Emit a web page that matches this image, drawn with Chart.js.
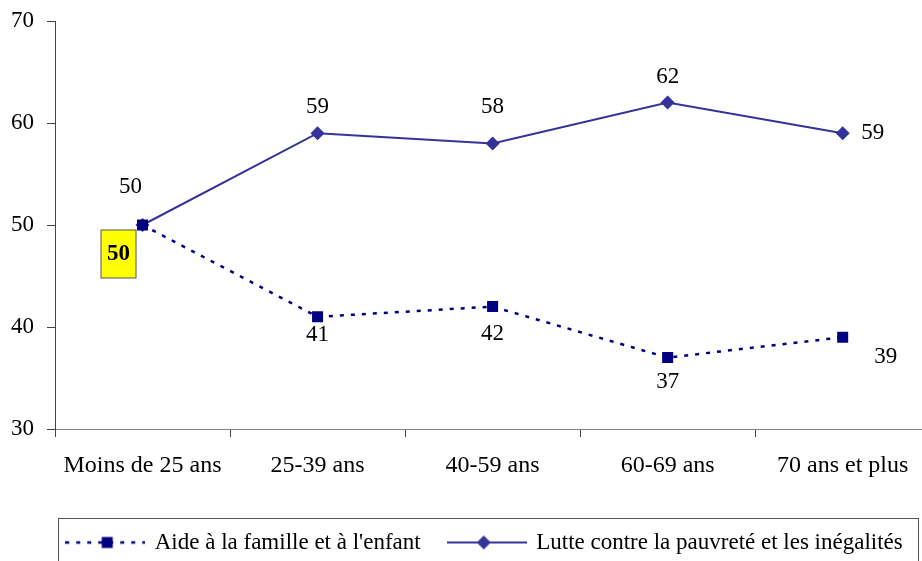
<!DOCTYPE html>
<html>
<head>
<meta charset="utf-8">
<script src="https://cdn.jsdelivr.net/npm/chart.js@4.4.1/dist/chart.umd.min.js"></script>
<style>
  html, body { margin: 0; padding: 0; background: #fff; overflow: hidden; }
  #wrap { width: 938px; height: 561px; }
</style>
</head>
<body>
<div id="wrap"><canvas id="chart1"></canvas></div>
<script>
"use strict"

// chart values
const categories = ['Moins de 25 ans', '25-39 ans', '40-59 ans', '60-69 ans', '70 ans et plus']
const aideValues = [50, 41, 42, 37, 39]
const lutteValues = [50, 59, 58, 62, 59]
const yTicks = [30, 40, 50, 60, 70]
const seriesNames = ["Aide à la famille et à l'enfant", 'Lutte contre la pauvreté et les inégalités']

const FONT = 'Liberation Serif, Times New Roman, serif'
const AIDE_COLOR = '#000080'
const LUTTE_COLOR = '#333399'

// little legend pictures: line + marker
function legendIcon(dashed){
    const c = document.createElement('canvas')
    c.width = 80
    c.height = 20
    const g = c.getContext('2d')
    g.beginPath()
    g.moveTo(0, 10)
    g.lineTo(80, 10)
    if (dashed) {
        g.setLineDash([4, 7])
        g.lineWidth = 2.5
        g.strokeStyle = AIDE_COLOR
    } else {
        g.lineWidth = 2
        g.strokeStyle = LUTTE_COLOR
    }
    g.stroke()
    g.setLineDash([])
    if (dashed) {
        g.fillStyle = AIDE_COLOR
        g.fillRect(36.5, 4.5, 11, 11)
    } else {
        g.fillStyle = LUTTE_COLOR
        g.beginPath()
        g.moveTo(37, 3); g.lineTo(44, 10); g.lineTo(37, 17); g.lineTo(30, 10)
        g.closePath()
        g.fill()
    }
    return c
}
const icons = [legendIcon(true), legendIcon(false)]

// data labels, offsets from each point
const valueLabels = {
    id: 'valueLabels',
    afterDatasetsDraw(chart, args, opts){
        const ctx = chart.ctx
        ctx.save()
        ctx.textAlign = 'center'
        ctx.textBaseline = 'middle'
        chart.data.datasets.forEach((ds, i) => {
            const meta = chart.getDatasetMeta(i)
            meta.data.forEach((pt, j) => {
                const off = opts.offsets[i][j]
                const x = pt.x + off[0]
                const y = pt.y + off[1]
                const txt = String(ds.data[j])
                if (opts.boxed[0] === i && opts.boxed[1] === j) {
                    ctx.fillStyle = '#ffff00'
                    ctx.fillRect(x - 17.5, y - 24, 35, 48)
                    ctx.strokeStyle = '#555'
                    ctx.lineWidth = 1
                    ctx.strokeRect(x - 17.5, y - 24, 35, 48)
                    ctx.font = 'bold 23px ' + FONT
                } else {
                    ctx.font = '23px ' + FONT
                }
                ctx.fillStyle = '#000'
                ctx.fillText(txt, x, y)
            })
        })
        ctx.restore()
    }
}

// move the legend a bit and put a frame round it
const legendFrame = {
    id: 'legendFrame',
    afterLayout(chart){
        const lg = chart.legend
        if (!lg) return
        lg.left += 16
        lg.right += 16
        lg.top += 3
        lg.bottom += 3
    },
    afterDraw(chart){
        const lg = chart.legend
        if (!lg) return
        const ctx = chart.ctx
        ctx.save()
        ctx.strokeStyle = '#555'
        ctx.lineWidth = 1
        ctx.strokeRect(58.5, lg.top + 15.5, 860, 60)
        ctx.restore()
    }
}

const ctx = document.getElementById('chart1')
new Chart(ctx, {
    type: 'line',
    data: {
        labels: categories,
        datasets: [{
            label: seriesNames[0],
            data: aideValues,
            borderColor: AIDE_COLOR,
            backgroundColor: AIDE_COLOR,
            borderWidth: 2.5,
            borderDash: [4, 7],
            pointStyle: 'rect',
            pointRadius: 7.8,
            pointHoverRadius: 7.8,
            pointBorderWidth: 0,
            tension: 0
        }, {
            label: seriesNames[1],
            data: lutteValues,
            borderColor: LUTTE_COLOR,
            backgroundColor: LUTTE_COLOR,
            borderWidth: 2,
            pointStyle: 'rectRot',
            pointRadius: 7,
            pointHoverRadius: 7,
            pointBorderWidth: 0,
            tension: 0
        }]
    },
    options: {
        responsive: true,
        maintainAspectRatio: false,
        animation: false,
        events: [],
        layout: { padding: { top: 21, right: 0, left: 0, bottom: 0 } },
        scales: {
            x: {
                offset: true,
                grid: { offset: true, drawOnChartArea: false, tickLength: 8, color: '#444' },
                border: { color: '#808080', width: 1 },
                ticks: { color: '#000', font: { family: FONT, size: 24 }, padding: 14, maxRotation: 0 },
                afterFit(scale){ scale.height = 71 }
            },
            y: {
                min: 30,
                max: 70,
                afterBuildTicks(scale){ scale.ticks = yTicks.map(v => ({ value: v })) },
                grid: { drawOnChartArea: false, tickLength: 8, color: '#444' },
                border: { color: '#444', width: 1 },
                ticks: { color: '#000', font: { family: FONT, size: 23 }, padding: 13 },
                afterFit(scale){
                    scale.width = 55
                    scale.paddingTop = 0
                    scale.paddingBottom = 0
                }
            }
        },
        plugins: {
            tooltip: { enabled: false },
            legend: {
                position: 'bottom',
                labels: {
                    usePointStyle: true,
                    pointStyleWidth: 76,
                    color: '#000',
                    font: { family: FONT, size: 23 },
                    padding: 28,
                    generateLabels(chart){
                        return chart.data.datasets.map((ds, i) => ({
                            text: ds.label,
                            pointStyle: icons[i],
                            fillStyle: 'transparent',
                            strokeStyle: 'transparent',
                            lineWidth: 0,
                            datasetIndex: i,
                            fontColor: '#000'
                        }))
                    }
                }
            },
            valueLabels: {
                offsets: [
                    [[-24, 29], [0, 18], [0, 27], [0, 24], [43, 20]],
                    [[-12, -38], [0, -26], [0, -36], [0, -26], [30, 0]]
                ],
                boxed: [0, 0]
            }
        }
    },
    plugins: [valueLabels, legendFrame]
})
</script>
</body>
</html>
